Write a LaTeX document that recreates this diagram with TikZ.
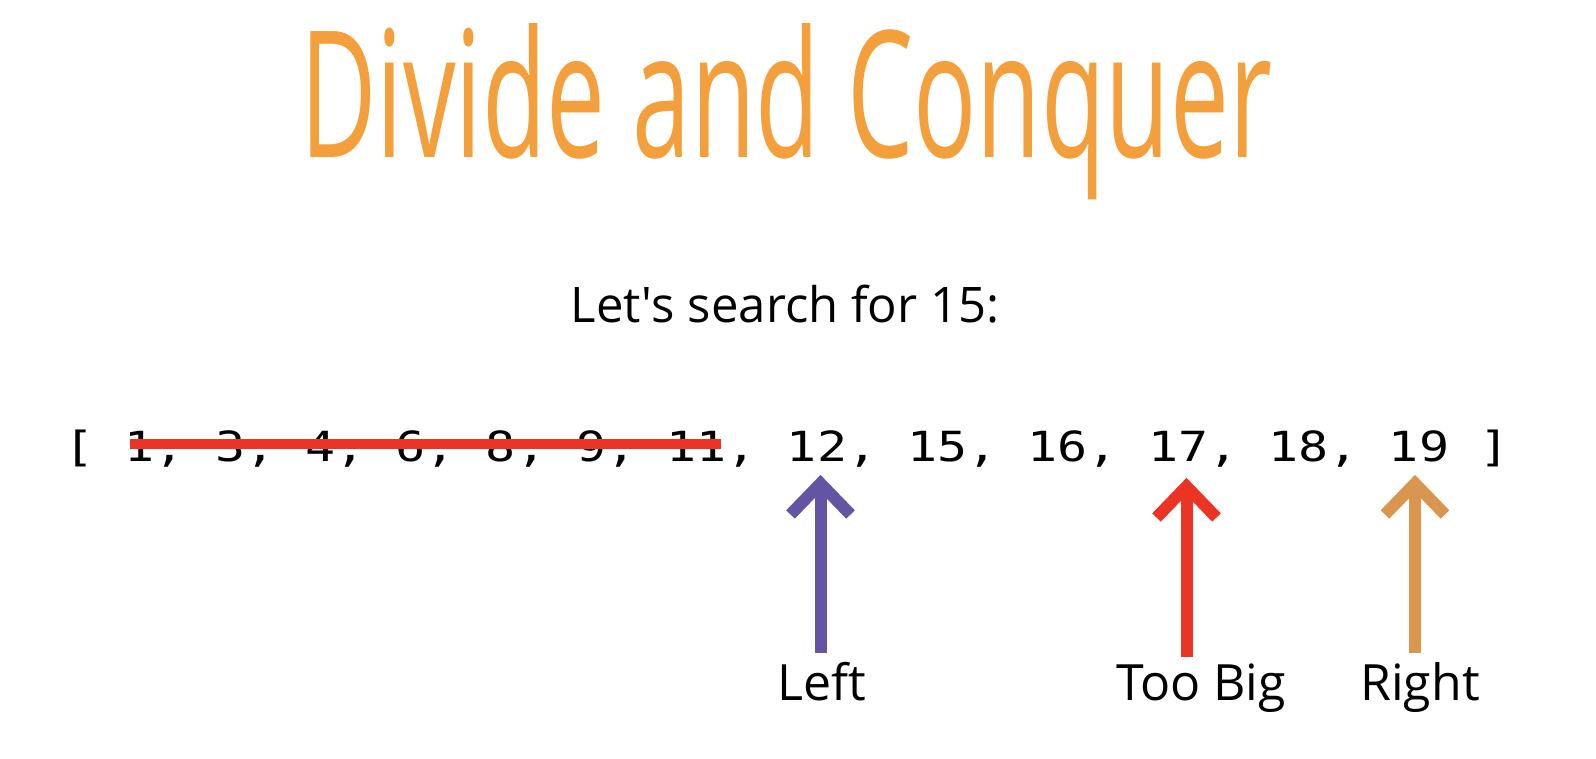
\documentclass[tikz,border=0pt]{standalone}
\usepackage{fontspec}
\setmainfont{Open Sans}
\newfontfamily\codefont{DejaVu Sans Mono}
\definecolor{titleorange}{RGB}{243,159,59}
\definecolor{leftpurple}{RGB}{99,84,164}
\definecolor{bigred}{RGB}{236,52,37}
\definecolor{rightorange}{RGB}{218,150,79}
\begin{document}
\begin{tikzpicture}[x=1pt,y=-1pt,
  txt/.style={inner sep=0pt, anchor=base},
  lbl/.style={txt, font=\fontsize{50}{50}\selectfont},
  ptr/.style={line width=12pt, line join=miter, miter limit=10},
]
\fill[white] (0,0) rectangle (1596,758);
\useasboundingbox (0,0) rectangle (1596,758);

% heading and prompt
\node[txt, text=titleorange] (title) at (786,157)
  {\resizebox{972pt}{134pt}{\fontsize{100}{100}\selectfont Divide and Conquer}};
\node[txt, font=\fontsize{49}{49}\selectfont] (prompt) at (785,322)
  {Let\textquotesingle s search for 15:};

% the sorted array
\node[inner sep=0pt, anchor=base west] (arr) at (64.4,461)
  {\codefont\fontsize{50}{50}\selectfont\scalebox{1}[0.83]{[ 1, 3, 4, 6, 8, 9, 11, 12, 15, 16, 17, 18, 19 ]}};

% discarded half
\coordinate (cutA) at (130,444);
\coordinate (cutB) at (721,444);
\draw[bigred, line width=10pt] (cutA) -- (cutB);

% pointer labels
\node[lbl] (left)  at (822,700) {Left};
\node[lbl] (big)   at (1201,700) {Too Big};
\node[lbl] (right) at (1420,700) {Right};

% pointer arrows
\coordinate (tailL) at (820.5,653);  \coordinate (tipL) at (820.5,483.5);
\coordinate (tailB) at (1186.5,657); \coordinate (tipB) at (1186.5,486.5);
\coordinate (tailR) at (1415,653);   \coordinate (tipR) at (1415,483.5);

\foreach \t/\h/\c in {tailL/tipL/leftpurple, tailB/tipB/bigred, tailR/tipR/rightorange}{
  \draw[ptr, \c] (\t) -- (\h);
  \draw[ptr, \c] ([shift={(-30,31)}]\h) -- (\h) -- ([shift={(30,31)}]\h);
}
\end{tikzpicture}
\end{document}
